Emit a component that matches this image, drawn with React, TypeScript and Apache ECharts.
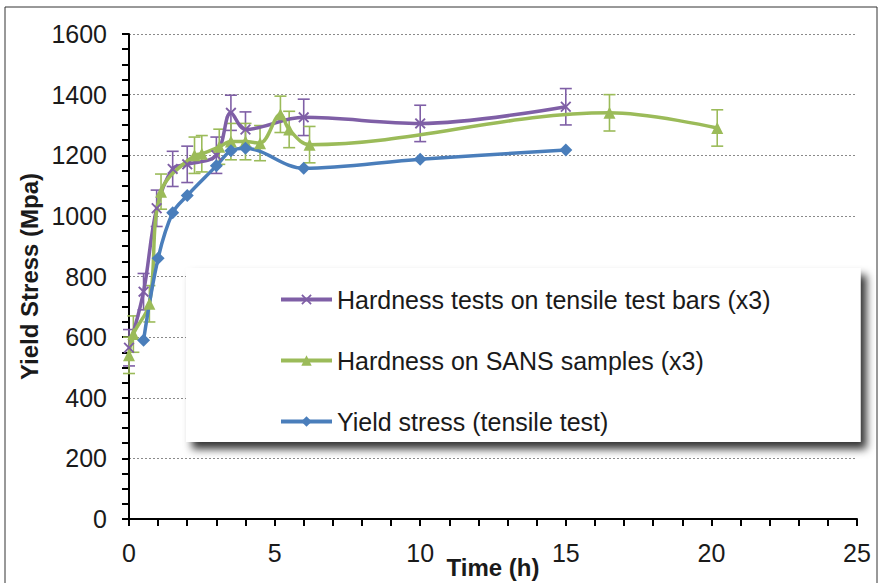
import React, { useEffect, useRef } from "react";
import * as echarts from "echarts";

// ---- data ----
const barsName = "Hardness tests on tensile test bars (x3)";
const barsT = [0, 0.5, 0.95, 1.5, 2.0, 3.0, 3.5, 4.0, 6.0, 10.0, 15.0];
const barsV = [565, 750, 1025, 1155, 1170, 1200, 1340, 1285, 1325, 1305, 1360];
const barsErr = [60, 60, 60, 58, 60, 60, 58, 58, 60, 60, 60];

const sansName = "Hardness on SANS samples (x3)";
const sansT = [0, 0.15, 0.7, 1.1, 2.25, 2.5, 3.1, 3.5, 4.0, 4.5, 5.2, 5.5, 6.2, 16.5, 20.2];
const sansV = [540, 610, 710, 1080, 1200, 1205, 1228, 1245, 1245, 1240, 1335, 1285, 1235, 1340, 1290];
const sansErr = [60, 60, 60, 58, 60, 60, 58, 60, 60, 58, 60, 60, 60, 60, 60];

const yieldName = "Yield stress (tensile test)";
const yieldT = [0.5, 1.0, 1.5, 2.0, 3.0, 3.5, 4.0, 6.0, 10.0, 15.0];
const yieldV = [590, 860, 1010, 1067, 1165, 1215, 1223, 1157, 1187, 1217];

const xTitle = "Time (h)";
const yTitle = "Yield Stress (Mpa)";

const PURPLE = "#7F5FA6";
const GREEN = "#9BBB59";
const BLUE = "#4A7EBB";
const FONT = "'Liberation Sans', Arial, sans-serif";

const xSymbol =
  "path://M0,1.2L1.2,0L5,3.8L8.8,0L10,1.2L6.2,5L10,8.8L8.8,10L5,6.2L1.2,10L0,8.8L3.8,5Z";

function pairs(t: number[], v: number[]) {
  return t.map((x, i) => [x, v[i]]);
}
function errData(t: number[], v: number[], e: number[]) {
  return t.map((x, i) => [x, v[i] - e[i], v[i] + e[i]]);
}
function errSeries(data: number[][], color: string) {
  return {
    type: "custom",
    data,
    z: 3,
    silent: true,
    encode: { x: 0, y: [1, 2] },
    renderItem: (_p: any, api: any) => {
      const x = api.value(0);
      const lo = api.coord([x, api.value(1)]);
      const hi = api.coord([x, api.value(2)]);
      const w = 6;
      const style = { stroke: color, lineWidth: 1.6, fill: "none" };
      return {
        type: "group",
        children: [
          { type: "line", shape: { x1: lo[0], y1: lo[1], x2: hi[0], y2: hi[1] }, style },
          { type: "line", shape: { x1: lo[0] - w, y1: lo[1], x2: lo[0] + w, y2: lo[1] }, style },
          { type: "line", shape: { x1: hi[0] - w, y1: hi[1], x2: hi[0] + w, y2: hi[1] }, style },
        ],
      };
    },
  };
}

export default function App() {
  const ref = useRef<HTMLDivElement>(null);
  useEffect(() => {
    if (!ref.current) return;
    const chart = echarts.init(ref.current, null, { renderer: "svg" });
    const axisLbl = { color: "#1a1a1a", fontSize: 25, fontFamily: FONT };
    const tick = { show: true, length: 7, lineStyle: { color: "#000", width: 2 } };
    chart.setOption({
      animation: false,
      backgroundColor: "#ffffff",
      textStyle: { fontFamily: FONT },
      graphic: [
        {
          type: "rect",
          z: -10,
          shape: { x: 5, y: 7, width: 872, height: 700 },
          style: { fill: "none", stroke: "#333", lineWidth: 1 },
          silent: true,
        },
      ],
      grid: {
        left: 129,
        right: 24,
        top: 34,
        bottom: 64,
        containLabel: false,
        outerBoundsMode: "none",
      },
      xAxis: {
        type: "value",
        min: 0,
        max: 25,
        interval: 5,
        name: xTitle,
        nameLocation: "middle",
        nameGap: 36,
        nameMoveOverlap: false,
        nameTextStyle: { fontSize: 24, fontWeight: "bold", color: "#1a1a1a", fontFamily: FONT },
        axisLine: { show: true, onZero: false, lineStyle: { color: "#000", width: 2 } },
        axisTick: tick,
        minorTick: { ...tick, splitNumber: 5 },
        axisLabel: { ...axisLbl, margin: 21, formatter: (v: number) => String(v) },
        splitLine: { show: false },
      },
      yAxis: {
        type: "value",
        min: 0,
        max: 1600,
        interval: 200,
        name: yTitle,
        nameLocation: "middle",
        nameGap: 88,
        nameRotate: 90,
        nameMoveOverlap: false,
        nameTextStyle: { fontSize: 24, fontWeight: "bold", color: "#1a1a1a", fontFamily: FONT },
        axisLine: { show: true, onZero: false, lineStyle: { color: "#000", width: 2 } },
        axisTick: tick,
        minorTick: { ...tick, splitNumber: 4 },
        axisLabel: { ...axisLbl, margin: 22, formatter: (v: number) => String(v) },
        splitLine: { show: true, lineStyle: { color: "#8a8a8a", width: 1.2, type: [2, 2] } },
      },
      legend: {
        data: [barsName, sansName, yieldName],
        orient: "vertical",
        left: 186,
        top: 268,
        padding: [19, 90, 8, 93],
        itemGap: 36,
        itemWidth: 51,
        itemHeight: 13,
        backgroundColor: "#ffffff",
        shadowBlur: 8,
        shadowColor: "rgba(0,0,0,0.8)",
        shadowOffsetX: 6,
        shadowOffsetY: 7,
        lineStyle: { width: 4 },
        textStyle: { fontSize: 25, lineHeight: 25, color: "#1a1a1a", fontFamily: FONT },
      },
      series: [
        errSeries(errData(barsT, barsV, barsErr), PURPLE),
        errSeries(errData(sansT, sansV, sansErr), GREEN),
        {
          name: barsName,
          type: "line",
          data: pairs(barsT, barsV),
          smooth: 0.35,
          z: 4,
          symbol: xSymbol,
          symbolSize: 11,
          lineStyle: { color: PURPLE, width: 3.5 },
          itemStyle: { color: PURPLE },
        },
        {
          name: sansName,
          type: "line",
          data: pairs(sansT, sansV),
          smooth: 0.35,
          z: 4,
          symbol: "triangle",
          symbolSize: 12,
          lineStyle: { color: GREEN, width: 3.5 },
          itemStyle: { color: GREEN },
        },
        {
          name: yieldName,
          type: "line",
          data: pairs(yieldT, yieldV),
          smooth: 0.35,
          z: 4,
          symbol: "diamond",
          symbolSize: 13,
          lineStyle: { color: BLUE, width: 3.5 },
          itemStyle: { color: BLUE },
        },
      ],
    });
    return () => chart.dispose();
  }, []);
  return (
    <div
      ref={ref}
      style={{ position: "absolute", left: 0, top: 0, width: 881, height: 583 }}
    />
  );
}
